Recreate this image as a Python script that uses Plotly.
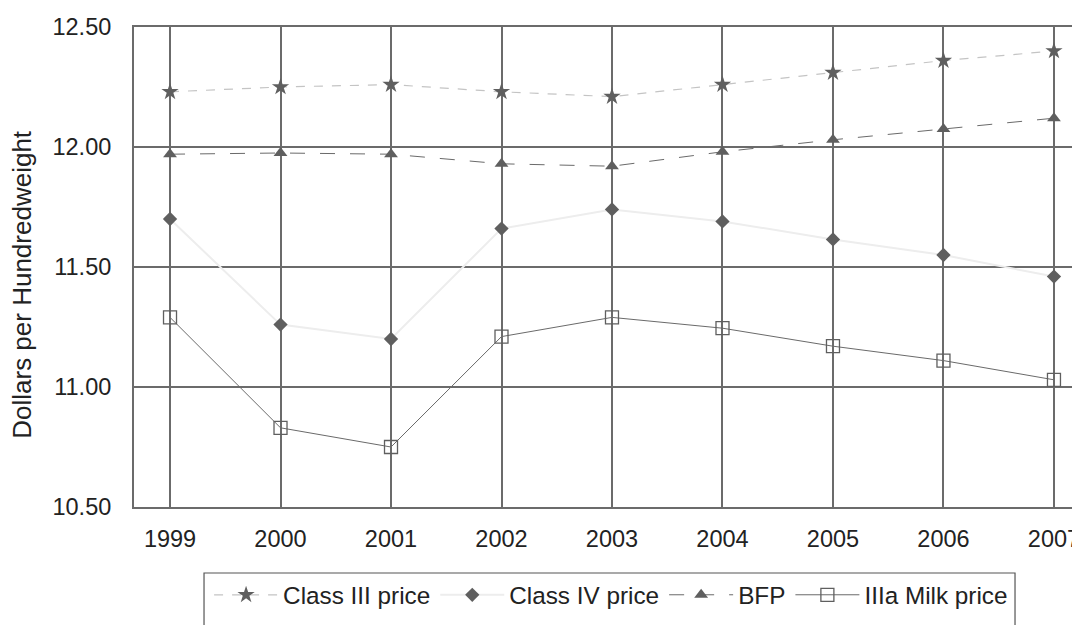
import plotly.graph_objects as go

years = [1999, 2000, 2001, 2002, 2003, 2004, 2005, 2006, 2007]
class_iii = [12.23, 12.25, 12.26, 12.23, 12.21, 12.26, 12.31, 12.36, 12.40]
class_iv = [11.70, 11.26, 11.20, 11.66, 11.74, 11.69, 11.615, 11.55, 11.46]
bfp = [11.97, 11.975, 11.97, 11.93, 11.92, 11.98, 12.03, 12.075, 12.12]
iiia = [11.29, 10.83, 10.75, 11.21, 11.29, 11.245, 11.17, 11.11, 11.03]
y_ticks = [10.5, 11.0, 11.5, 12.0, 12.5]
y_tick_labels = ["10.50", "11.00", "11.50", "12.00", "12.50"]

FONT = "Liberation Sans, Arial, sans-serif"
MK = "#5f5f5f"
GRID = "#6b6b6b"

fig = go.Figure()
fig.add_trace(go.Scatter(
    x=years, y=class_iii, name="Class III price", mode="lines+markers",
    line=dict(color="#c4c4c4", width=1.2, dash="dash"),
    marker=dict(symbol="star", size=13, color=MK)))
fig.add_trace(go.Scatter(
    x=years, y=class_iv, name="Class IV price", mode="lines+markers",
    line=dict(color="#ededed", width=2),
    marker=dict(symbol="diamond", size=11, color=MK)))
fig.add_trace(go.Scatter(
    x=years, y=bfp, name="BFP", mode="lines+markers",
    line=dict(color="#6a6a6a", width=1, dash="longdash"),
    marker=dict(symbol="triangle-up", size=12, color=MK)))
fig.add_trace(go.Scatter(
    x=years, y=iiia, name="IIIa Milk price", mode="lines+markers",
    line=dict(color="#6a6a6a", width=1),
    marker=dict(symbol="square-open", size=13, color=MK, line=dict(width=1.3))))

# legend frame (extends past the bottom edge like the reference)
fig.add_shape(type="rect", xref="paper", yref="paper",
              x0=0.0734, x1=0.9235, y0=-0.1375, y1=-0.40,
              line=dict(color="#555555", width=1.2), fillcolor="rgba(0,0,0,0)")

fig.add_annotation(text="Dollars per Hundredweight", xref="paper", yref="paper",
                   x=-0.1174, y=0.463, xanchor="center", yanchor="middle",
                   textangle=-90, showarrow=False,
                   font=dict(size=26, family=FONT, color="#222222"))

fig.update_layout(
    width=1080, height=625,
    margin=dict(l=126, r=0, t=19, b=126),
    paper_bgcolor="white", plot_bgcolor="white",
    font=dict(family=FONT, color="#222222", size=24),
    showlegend=True,
    legend=dict(orientation="h", x=0.0787, xanchor="left", y=-0.1833, yanchor="middle",
                borderwidth=0, bgcolor="rgba(0,0,0,0)", font=dict(size=24.3),
                itemwidth=64, tracegroupgap=0),
    xaxis=dict(range=[1998.674, 2007.308], tickmode="array", tickvals=years,
               ticktext=[str(y) for y in years],
               showgrid=True, gridcolor=GRID, gridwidth=1.8,
               showline=True, linecolor=GRID, linewidth=2, mirror=True,
               ticks="outside", ticklen=10, tickcolor="rgba(0,0,0,0)",
               tickfont=dict(size=23.5, family=FONT, color="#222222"),
               zeroline=False),
    yaxis=dict(range=[10.5, 12.5], tickmode="array", tickvals=y_ticks,
               ticktext=y_tick_labels,
               showgrid=True, gridcolor=GRID, gridwidth=1.8,
               showline=True, linecolor=GRID, linewidth=2,
               ticks="outside", ticklen=16, tickcolor="rgba(0,0,0,0)",
               tickfont=dict(size=23.5, family=FONT, color="#222222"),
               zeroline=False),
)

fig.write_html("out.html")
